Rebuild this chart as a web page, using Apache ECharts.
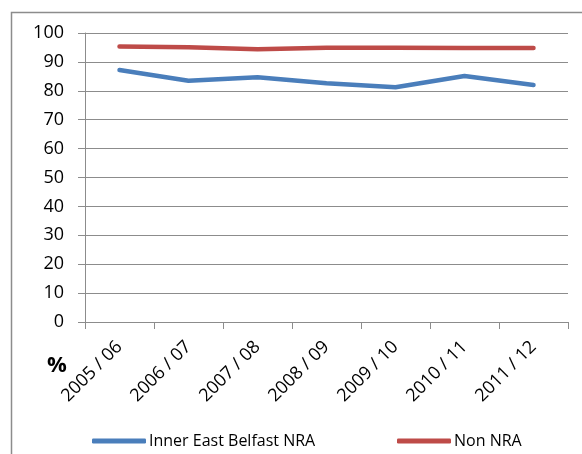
<!DOCTYPE html>
<html>
<head>
<meta charset="utf-8">
<script src="https://cdn.jsdelivr.net/npm/echarts@6/dist/echarts.min.js"></script>
<style>
  html, body { margin: 0; padding: 0; background: #fff; }
  #chart { width: 582px; height: 454px; }
</style>
</head>
<body>
<div id="chart"></div>
<script>
// school years on the x axis
const years = ['2005 / 06', '2006 / 07', '2007 / 08', '2008 / 09', '2009 / 10', '2010 / 11', '2011 / 12'];

// values (%)
const innerEastBelfast = [87.2, 83.5, 84.7, 82.6, 81.2, 85.1, 82.0];
const nonNra = [95.3, 95.1, 94.4, 94.9, 94.9, 94.8, 94.8];

const FONT = "'Open Sans', 'Liberation Sans', sans-serif";
const GRID_GREY = '#8c8c8c';

const chart = echarts.init(document.getElementById('chart'), null, { renderer: 'canvas' });

const legendBase = {
  top: 428,
  icon: 'roundRect',
  itemWidth: 54, itemHeight: 5,
  itemGap: 4,
  textStyle: { fontSize: 16, color: '#000', fontFamily: FONT, padding: [0, 0, 0, -2] }
};

chart.setOption({
  backgroundColor: '#ffffff',
  animation: false,
  textStyle: { fontFamily: FONT, color: '#000' },
  grid: { left: 85, right: 14, top: 33, bottom: 132 },
  legend: [
    Object.assign({ data: ['Inner East Belfast NRA'], left: 87 }, legendBase),
    Object.assign({ data: ['Non NRA'], left: 392 }, legendBase)
  ],
  xAxis: {
    type: 'category',
    data: years,
    boundaryGap: true,
    axisLine: { lineStyle: { color: GRID_GREY, width: 1 } },
    axisTick: { show: true, length: 7, lineStyle: { color: GRID_GREY } },
    axisLabel: { rotate: 45, fontSize: 18, color: '#000', margin: 22, interval: 0 }
  },
  yAxis: {
    type: 'value',
    min: 0, max: 100, interval: 10,
    axisLine: { show: true, lineStyle: { color: GRID_GREY, width: 1 } },
    axisTick: { show: true, length: 7, lineStyle: { color: GRID_GREY } },
    axisLabel: { fontSize: 18, color: '#000', margin: 21 },
    splitLine: { lineStyle: { color: GRID_GREY, width: 1 } }
  },
  series: [
    {
      name: 'Inner East Belfast NRA',
      type: 'line',
      data: innerEastBelfast,
      symbol: 'none',
      color: '#4a7ebb',
      lineStyle: { width: 4.5, color: '#4a7ebb', cap: 'round', join: 'round' }
    },
    {
      name: 'Non NRA',
      type: 'line',
      data: nonNra,
      symbol: 'none',
      color: '#be4b48',
      lineStyle: { width: 4.5, color: '#be4b48', cap: 'round', join: 'round' }
    }
  ],
  graphic: [
    {
      type: 'rect',
      shape: { x: 11.5, y: 12.5, width: 700, height: 600 },
      style: { fill: 'none', stroke: '#8c8c8c', lineWidth: 1.5 },
      z: -1
    },
    {
      type: 'text',
      left: 47, top: 355,
      style: { text: '%', font: "bold 22px 'Open Sans', sans-serif", fill: '#000' }
    }
  ]
});
</script>
</body>
</html>
